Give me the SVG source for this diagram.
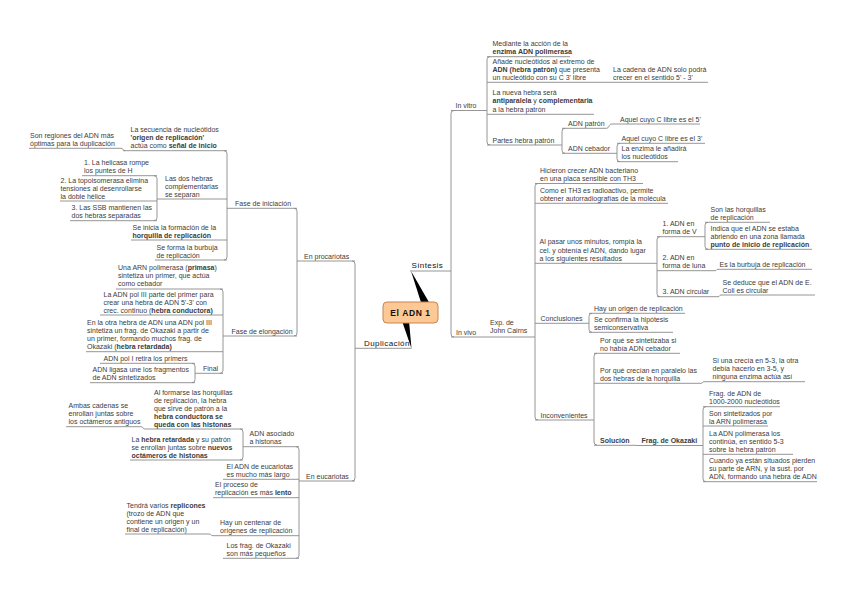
<svg xmlns="http://www.w3.org/2000/svg" width="848" height="599" viewBox="0 0 848 599">
<style>
.t{font-family:"Liberation Sans",Arial,sans-serif;font-size:7px;fill:#3c3c3c}
.b{font-weight:bold}
.u,.c{stroke:#8a8a8a;stroke-width:0.9;fill:none}
.m{font-family:"Liberation Sans",Arial,sans-serif;font-size:8px;letter-spacing:0.4px;fill:#111}
</style>
<rect width="848" height="599" fill="#fff"/>
<g id="connectors">
<polygon points="411,271 421.5,304 430,304" fill="#000"/>
<polygon points="402,321 409,321 411.5,348.5" fill="#000"/>
<path class="c" d="M454,110.5 Q451,110.5 451,113.5 V334 Q451,337 454,337"/>
<path class="c" d="M490,56.7 Q487,56.7 487,59.7 V142 Q487,145 490,145"/>
<path class="c" d="M565,128.3 Q562,128.3 562,131.3 V150.3 Q562,153.3 565,153.3"/>
<path class="c" d="M620,143.3 Q617,143.3 617,146.3 V158.7 Q617,161.7 620,161.7"/>
<path class="c" d="M538,183.5 Q535,183.5 535,186.5 V417 Q535,420 538,420"/>
<path class="c" d="M660,236.7 Q657,236.7 657,239.7 V293.7 Q657,296.7 660,296.7"/>
<path class="c" d="M708,222.3 Q705,222.3 705,225.3 V246.3 Q705,249.3 708,249.3"/>
<path class="c" d="M592,313.3 Q589,313.3 589,316.3 V329.3 Q589,332.3 592,332.3"/>
<path class="c" d="M597,353.3 Q594,353.3 594,356.3 V442 Q594,445 597,445"/>
<path class="c" d="M706,406.7 Q703,406.7 703,409.7 V478.7 Q703,481.7 706,481.7"/>
<path class="c" d="M606,128.3 C610,128.3 608,124 612,124"/>
<path class="c" d="M715,270.7 C717,270.7 716,269.3 718,269.3"/>
<path class="c" d="M718,296.7 C720,296.7 719,295 721,295"/>
<path class="c" d="M701,383.3 C703,383.3 702,381.7 704,381.7"/>
<path class="c" d="M352,261 Q355,261 355,264 V478 Q355,481 352,481"/>
<path class="c" d="M294,208.3 Q297,208.3 297,211.3 V333 Q297,336 294,336"/>
<path class="c" d="M224,150.7 Q227,150.7 227,153.7 V257 Q227,260 224,260"/>
<path class="c" d="M154,175.7 Q157,175.7 157,178.7 V217.7 Q157,220.7 154,220.7"/>
<path class="c" d="M220,289 Q223,289 223,292 V370.3 Q223,373.3 220,373.3"/>
<path class="c" d="M192,363.3 Q195,363.3 195,366.3 V379.7 Q195,382.7 192,382.7"/>
<path class="c" d="M296,446.7 Q299,446.7 299,449.7 V555.3 Q299,558.3 296,558.3"/>
<path class="c" d="M240,429 Q243,429 243,432 V457 Q243,460 240,460"/>
<path class="c" d="M121,148.3 C124,148.3 122,150.7 125,150.7"/>
<path class="c" d="M141,426.7 C144,426.7 142,429 145,429"/>
<path class="c" d="M209,534 C212,534 210,535.7 213,535.7"/>
</g>
<g id="n-root"><rect x="383" y="302" width="55" height="21" rx="4" fill="#fcc996" stroke="#c8864a" stroke-width="1"/><text x="410.5" y="315.8" text-anchor="middle" font-family="Liberation Sans,Arial,sans-serif" font-size="8.5" font-weight="bold" letter-spacing="0.6" fill="#111">El ADN 1</text></g>
<g id="n-sintesis"><text class="m" x="411.5" y="268">Síntesis</text><path class="u" d="M410,271H451"/></g>
<g id="n-duplicacion"><text class="m" x="364" y="345.5">Duplicación</text><path class="u" d="M355,348.3H411.5"/></g>
<g id="n-invitro"><text class="t" x="455.5" y="108">In vitro</text><path class="u" d="M451,110.5H487"/></g>
<g id="n-invivo"><text class="t" x="456" y="334.5">In vivo</text><path class="u" d="M451,337H488"/></g>
<g id="n-exp"><text class="t"><tspan x="490" y="325">Exp. de</tspan><tspan x="490" y="333">John Cairns</tspan></text><path class="u" d="M488,337H535"/></g>
<g id="n-mediante"><text class="t"><tspan x="492.5" y="46.2">Mediante la acción de la</tspan><tspan x="492.5" y="54.2" class="b">enzima ADN polimerasa</tspan></text><path class="u" d="M487,56.7H570"/></g>
<g id="n-anade"><text class="t"><tspan x="492.5" y="63.8">Añade nucleótidos al extremo de</tspan><tspan x="492.5" y="71.8"><tspan class="b">ADN (hebra patrón)</tspan> que presenta</tspan><tspan x="492.5" y="79.8">un nucleótido con su C 3' libre</tspan></text><path class="u" d="M487,82.3H610"/></g>
<g id="n-cadena"><text class="t"><tspan x="613" y="72">La cadena de ADN solo podrá</tspan><tspan x="613" y="79.8">crecer en el sentido 5' - 3'</tspan></text><path class="u" d="M610,82.3H708"/></g>
<g id="n-nueva"><text class="t"><tspan x="492.5" y="94.8">La nueva hebra será</tspan><tspan x="492.5" y="103.3"><tspan class="b">antiparalela</tspan> y <tspan class="b">complementaria</tspan></tspan><tspan x="492.5" y="111.8">a la hebra patrón</tspan></text><path class="u" d="M487,114.3H594"/></g>
<g id="n-partes"><text class="t" x="492.5" y="142.5">Partes hebra patrón</text><path class="u" d="M487,145H562"/></g>
<g id="n-adnpatron"><text class="t" x="568" y="125.8">ADN patrón</text><path class="u" d="M562,128.3H606"/></g>
<g id="n-aquel5"><text class="t" x="620" y="121.5">Aquel cuyo C libre es el 5'</text><path class="u" d="M612,124H700"/></g>
<g id="n-adncebador"><text class="t" x="568" y="150.8">ADN cebador</text><path class="u" d="M562,153.3H617"/></g>
<g id="n-aquel3"><text class="t" x="621.5" y="140.8">Aquel cuyo C libre es el 3'</text><path class="u" d="M617,143.3H705"/></g>
<g id="n-enzima"><text class="t"><tspan x="621.5" y="151.2">La enzima le añadirá</tspan><tspan x="621.5" y="159.2">los nucleótidos</tspan></text><path class="u" d="M617,161.7H678"/></g>
<g id="n-hicieron"><text class="t"><tspan x="540" y="173">Hicieron crecer ADN bacteriano</tspan><tspan x="540" y="181">en una placa sensible con TH3</tspan></text><path class="u" d="M535,183.5H643"/></g>
<g id="n-como"><text class="t"><tspan x="540" y="192.8">Como el TH3 es radioactivo, permite</tspan><tspan x="540" y="200.8">obtener autorradiografías de la molécula</tspan></text><path class="u" d="M535,203.3H668"/></g>
<g id="n-alpasar"><text class="t"><tspan x="539.5" y="244">Al pasar unos minutos, rompía la</tspan><tspan x="539.5" y="252.5">cel. y obtenía el ADN, dando lugar</tspan><tspan x="539.5" y="261">a los siguientes resultados</tspan></text><path class="u" d="M535,263.3H657"/></g>
<g id="n-formav"><text class="t"><tspan x="662.5" y="226.2">1. ADN en</tspan><tspan x="662.5" y="234.2">forma de V</tspan></text><path class="u" d="M657,236.7H705"/></g>
<g id="n-horquillas"><text class="t"><tspan x="710.5" y="211.8">Son las horquillas</tspan><tspan x="710.5" y="219.8">de replicación</tspan></text><path class="u" d="M705,222.3H770"/></g>
<g id="n-indica"><text class="t"><tspan x="710.5" y="230.8">Indica que el ADN se estaba</tspan><tspan x="710.5" y="238.8">abriendo en una zona llamada</tspan><tspan x="710.5" y="246.8" class="b">punto de inicio de replicación</tspan></text><path class="u" d="M705,249.3H812"/></g>
<g id="n-luna"><text class="t"><tspan x="662.5" y="260.2">2. ADN en</tspan><tspan x="662.5" y="268.2">forma de luna</tspan></text><path class="u" d="M657,270.7H715"/></g>
<g id="n-burbuja"><text class="t" x="719.5" y="266.8">Es la burbuja de replicación</text><path class="u" d="M718,269.3H812"/></g>
<g id="n-circular"><text class="t" x="662.5" y="294.2">3. ADN circular</text><path class="u" d="M657,296.7H718"/></g>
<g id="n-deduce"><text class="t"><tspan x="722.5" y="284.5">Se deduce que el ADN de E.</tspan><tspan x="722.5" y="292.5">Coli es circular</tspan></text><path class="u" d="M721,295H815"/></g>
<g id="n-conclusiones"><text class="t" x="540.5" y="320.8">Conclusiones</text><path class="u" d="M535,323.3H589"/></g>
<g id="n-origen"><text class="t" x="594" y="310.8">Hay un origen de replicación</text><path class="u" d="M589,313.3H685"/></g>
<g id="n-confirma"><text class="t"><tspan x="594" y="321.8">Se confirma la hipótesis</tspan><tspan x="594" y="329.8">semiconservativa</tspan></text><path class="u" d="M589,332.3H673"/></g>
<g id="n-inconvenientes"><text class="t" x="540.5" y="417.5">Inconvenientes</text><path class="u" d="M535,420H594"/></g>
<g id="n-porque1"><text class="t"><tspan x="600" y="342.8">Por qué se sintetizaba si</tspan><tspan x="600" y="350.8">no había ADN cebador</tspan></text><path class="u" d="M594,353.3H680"/></g>
<g id="n-porque2"><text class="t"><tspan x="600" y="372.8">Por qué crecían en paralelo las</tspan><tspan x="600" y="380.8">dos hebras de la horquilla</tspan></text><path class="u" d="M594,383.3H701"/></g>
<g id="n-siuna"><text class="t"><tspan x="712.5" y="363.2">Si una crecía en 5-3, la otra</tspan><tspan x="712.5" y="371.2">debía hacerlo en 3-5, y</tspan><tspan x="712.5" y="379.2">ninguna enzima actúa así</tspan></text><path class="u" d="M704,381.7H805"/></g>
<g id="n-solucion"><text class="t b" x="600" y="442.5">Solución</text><path class="u" d="M594,445.3H636"/></g>
<g id="n-okazaki"><text class="t b" x="641.5" y="443">Frag. de Okazaki</text><path class="u" d="M636,445.5H703"/></g>
<g id="n-fragadn"><text class="t"><tspan x="709" y="396.2">Frag. de ADN de</tspan><tspan x="709" y="404.2">1000-2000 nucleótidos</tspan></text><path class="u" d="M703,406.7H780"/></g>
<g id="n-sonsint"><text class="t"><tspan x="709" y="415.5">Son sintetizados por</tspan><tspan x="709" y="423.5">la ARN polimerasa</tspan></text><path class="u" d="M703,426H768"/></g>
<g id="n-adnpolimerasa"><text class="t"><tspan x="709" y="435.8">La ADN polimerasa los</tspan><tspan x="709" y="443.8">continúa, en sentido 5-3</tspan><tspan x="709" y="451.8">sobre la hebra patrón</tspan></text><path class="u" d="M703,454.3H793"/></g>
<g id="n-cuando"><text class="t"><tspan x="709" y="463.2">Cuando ya están situados pierden</tspan><tspan x="709" y="471.2">su parte de ARN, y la sust. por</tspan><tspan x="709" y="479.2">ADN, formando una hebra de ADN</tspan></text><path class="u" d="M703,481.7H817"/></g>
<g id="n-procariotas"><text class="t" x="304" y="258.5">En procariotas</text><path class="u" d="M297,261H355"/></g>
<g id="n-iniciacion"><text class="t" x="235" y="205.8">Fase de iniciación</text><path class="u" d="M227,208.3H297"/></g>
<g id="n-secuencia"><text class="t"><tspan x="130.5" y="132.2">La secuencia de nucleótidos</tspan><tspan x="130.5" y="140.2" class="b">'origen de replicación'</tspan><tspan x="130.5" y="148.2">actúa como <tspan class="b">señal de inicio</tspan></tspan></text><path class="u" d="M123,150.7H227"/></g>
<g id="n-regiones"><text class="t"><tspan x="30" y="137.8">Son regiones del ADN más</tspan><tspan x="30" y="145.8">óptimas para la duplicación</tspan></text><path class="u" d="M29,148.3H121"/></g>
<g id="n-doshebras"><text class="t"><tspan x="165" y="180.5">Las dos hebras</tspan><tspan x="165" y="188.5">complementarias</tspan><tspan x="165" y="196.5">se separan</tspan></text><path class="u" d="M157,199H227"/></g>
<g id="n-helicasa"><text class="t"><tspan x="84" y="165.2">1. La helicasa rompe</tspan><tspan x="84" y="173.2">los puntes de H</tspan></text><path class="u" d="M82,175.7H157"/></g>
<g id="n-topo"><text class="t"><tspan x="60.5" y="182.5">2. La topoisomerasa elimina</tspan><tspan x="60.5" y="190.5">tensiones al desenrollarse</tspan><tspan x="60.5" y="198.5">la doble hélice</tspan></text><path class="u" d="M60,201H157"/></g>
<g id="n-ssb"><text class="t"><tspan x="71.5" y="210.2">3. Las SSB mantienen las</tspan><tspan x="71.5" y="218.2">dos hebras separadas</tspan></text><path class="u" d="M70,220.7H157"/></g>
<g id="n-seinicia"><text class="t"><tspan x="132.5" y="229.5">Se inicia la formación de la</tspan><tspan x="132.5" y="237.5" class="b">horquilla de replicación</tspan></text><path class="u" d="M131,240H227"/></g>
<g id="n-seforma"><text class="t"><tspan x="156.5" y="249.5">Se forma la burbuja</tspan><tspan x="156.5" y="257.5">de replicación</tspan></text><path class="u" d="M155,260H227"/></g>
<g id="n-elongacion"><text class="t" x="231.5" y="333.5">Fase de elongación</text><path class="u" d="M223,336H297"/></g>
<g id="n-unaarn"><text class="t"><tspan x="118" y="270">Una ARN polimerasa (<tspan class="b">primasa</tspan>)</tspan><tspan x="118" y="278">sintetiza un primer, que actúa</tspan><tspan x="118" y="286">como cebador</tspan></text><path class="u" d="M116,289H223"/></g>
<g id="n-pol3"><text class="t"><tspan x="103.5" y="296.5">La ADN pol III parte del primer para</tspan><tspan x="103.5" y="304.5">crear una hebra de ADN 5'-3' con</tspan><tspan x="103.5" y="312.5">crec. continuo (<tspan class="b">hebra conductora)</tspan></tspan></text><path class="u" d="M100,315H223"/></g>
<g id="n-otrahebra"><text class="t"><tspan x="87" y="325.2">En la otra hebra de ADN una ADN pol III</tspan><tspan x="87" y="333.2">sintetiza un frag. de Okazaki a partir de</tspan><tspan x="87" y="341.2">un primer, formando muchos frag. de</tspan><tspan x="87" y="349.2">Okazaki (<tspan class="b">hebra retardada)</tspan></tspan></text><path class="u" d="M86,351.7H223"/></g>
<g id="n-final"><text class="t" x="203" y="370.8">Final</text><path class="u" d="M195,373.3H223"/></g>
<g id="n-pol1"><text class="t" x="103.5" y="360.8">ADN pol I retira los primers</text><path class="u" d="M100,363.3H195"/></g>
<g id="n-ligasa"><text class="t"><tspan x="92.5" y="372.2">ADN ligasa une los fragmentos</tspan><tspan x="92.5" y="380.2">de ADN sintetizados</tspan></text><path class="u" d="M90,382.7H195"/></g>
<g id="n-eucariotas"><text class="t" x="306" y="478.5">En eucariotas</text><path class="u" d="M299,481H355"/></g>
<g id="n-asociado"><text class="t"><tspan x="249.5" y="436.2">ADN asociado</tspan><tspan x="249.5" y="444.2">a histonas</tspan></text><path class="u" d="M243,446.7H299"/></g>
<g id="n-alformarse"><text class="t"><tspan x="154" y="394.5">Al formarse las horquillas</tspan><tspan x="154" y="402.5">de replicación, la hebra</tspan><tspan x="154" y="410.5">que sirve de patrón a la</tspan><tspan x="154" y="418.5" class="b">hebra conductora se</tspan><tspan x="154" y="426.5" class="b">queda con las histonas</tspan></text><path class="u" d="M145,429H243"/></g>
<g id="n-ambas"><text class="t"><tspan x="68.5" y="408.2">Ambas cadenas se</tspan><tspan x="68.5" y="416.2">enrollan juntas sobre</tspan><tspan x="68.5" y="424.2">los octámeros antiguos</tspan></text><path class="u" d="M66,426.7H141"/></g>
<g id="n-retardada"><text class="t"><tspan x="131.5" y="441.5">La <tspan class="b">hebra retardada</tspan> y su patrón</tspan><tspan x="131.5" y="449.5">se enrollan juntas sobre <tspan class="b">nuevos</tspan></tspan><tspan x="131.5" y="457.5" class="b">octámeros de histonas</tspan></text><path class="u" d="M130,460H243"/></g>
<g id="n-largo"><text class="t"><tspan x="226.5" y="468.8">El ADN de eucariotas</tspan><tspan x="226.5" y="476.8">es mucho más largo</tspan></text><path class="u" d="M223,479.3H299"/></g>
<g id="n-lento"><text class="t"><tspan x="215" y="487.2">El proceso de</tspan><tspan x="215" y="495.2">replicación es más <tspan class="b">lento</tspan></tspan></text><path class="u" d="M213,497.7H299"/></g>
<g id="n-tendra"><text class="t"><tspan x="126.5" y="507.5">Tendrá varios <tspan class="b">replicones</tspan></tspan><tspan x="126.5" y="515.5">(trozo de ADN que</tspan><tspan x="126.5" y="523.5">contiene un origen y un</tspan><tspan x="126.5" y="531.5">final de replicación)</tspan></text><path class="u" d="M125,534H209"/></g>
<g id="n-centenar"><text class="t"><tspan x="220" y="525.2">Hay un centenar de</tspan><tspan x="220" y="533.2">orígenes de replicación</tspan></text><path class="u" d="M213,535.7H299"/></g>
<g id="n-pequenos"><text class="t"><tspan x="226.5" y="547.8">Los frag. de Okazaki</tspan><tspan x="226.5" y="555.8">son más pequeños</tspan></text><path class="u" d="M223,558.3H299"/></g>
</svg>
